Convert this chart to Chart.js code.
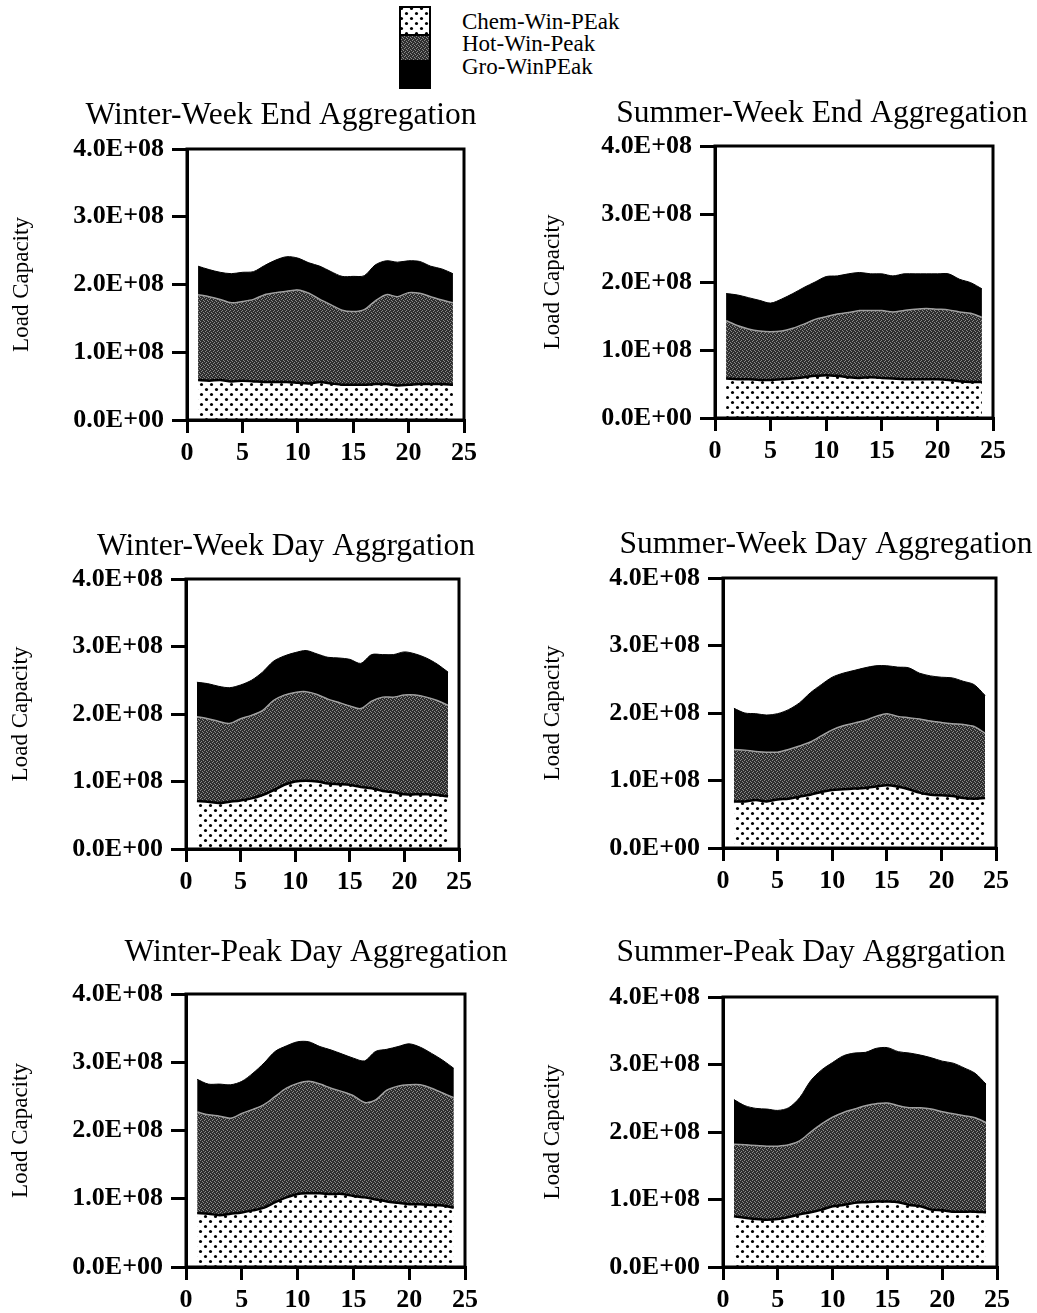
<!DOCTYPE html>
<html>
<head>
<meta charset="utf-8">
<title>Load Capacity Aggregation</title>
<script src="https://cdn.jsdelivr.net/npm/chart.js@4.4.1/dist/chart.umd.min.js"></script>
<style>
  html, body { margin: 0; padding: 0; background: #fff; overflow: hidden; }
  body { position: relative; width: 1037px; height: 1313px; font-family: 'Liberation Serif', 'Times New Roman', serif; }
  canvas.panel { position: absolute; }
  #legendSwatch { position: absolute; left: 399px; top: 6px; }
  .lbl { position: absolute; left: 462px; font-size: 23px; line-height: 23px; white-space: nowrap; color: #000; }
</style>
</head>
<body>
<canvas id="legendSwatch" width="32" height="83"></canvas>
<script>
// hours of the day
const hours = [1, 2, 3, 4, 5, 6, 7, 8, 9, 10, 11, 12, 13, 14, 15, 16, 17, 18, 19, 20, 21, 22, 23, 24];

const seriesNames = ['Chem-Win-PEak', 'Hot-Win-Peak', 'Gro-WinPEak'];

// load per component, in millions (stacked: chem, hot, gro)
const winterWeekEndChem = [59, 58, 59, 57, 58, 57, 56, 56, 56, 55, 54, 56, 54, 52, 52, 52, 53, 53, 51, 52, 53, 53, 53, 52];
const winterWeekEndHot  = [126, 124, 119, 116, 117, 121, 129, 132, 134, 137, 133, 122, 116, 110, 108, 111, 123, 132, 131, 136, 134, 129, 124, 121];
const winterWeekEndGro  = [42, 40, 40, 43, 43, 41, 43, 48, 51, 47, 45, 49, 49, 50, 52, 50, 53, 50, 51, 47, 47, 45, 46, 43];

const summerWeekEndChem = [58, 57, 57, 56, 56, 57, 58, 60, 62, 63, 62, 60, 59, 60, 59, 58, 57, 57, 57, 57, 56, 54, 53, 53];
const summerWeekEndHot  = [85, 79, 74, 72, 71, 71, 74, 78, 83, 86, 91, 95, 99, 98, 99, 98, 101, 103, 104, 103, 103, 102, 101, 95];
const summerWeekEndGro  = [40, 45, 46, 45, 42, 47, 51, 54, 55, 59, 56, 57, 56, 54, 54, 53, 54, 52, 51, 52, 53, 48, 45, 42];

const winterWeekDayChem = [71, 70, 68, 70, 72, 75, 80, 87, 95, 100, 101, 100, 97, 96, 95, 92, 90, 86, 84, 81, 81, 81, 80, 78];
const winterWeekDayHot  = [125, 123, 121, 116, 121, 123, 125, 133, 133, 132, 132, 129, 125, 121, 117, 116, 129, 139, 141, 147, 147, 144, 140, 135];
const winterWeekDayGro  = [51, 52, 52, 53, 50, 52, 57, 58, 58, 59, 61, 60, 62, 66, 69, 67, 69, 63, 63, 64, 61, 58, 54, 49];

const summerWeekDayChem = [69, 69, 71, 69, 72, 73, 76, 79, 83, 86, 87, 88, 89, 91, 93, 91, 87, 82, 79, 78, 77, 74, 73, 74];
const summerWeekDayHot  = [77, 76, 72, 73, 70, 73, 75, 78, 83, 89, 94, 97, 100, 104, 106, 104, 106, 109, 109, 108, 107, 109, 107, 96];
const summerWeekDayGro  = [61, 55, 56, 55, 57, 59, 64, 73, 76, 78, 78, 78, 78, 75, 71, 73, 74, 68, 67, 67, 68, 64, 62, 56];

const winterPeakDayChem = [79, 78, 76, 78, 80, 83, 87, 95, 102, 107, 108, 108, 107, 107, 104, 102, 99, 96, 94, 92, 92, 91, 90, 87];
const winterPeakDayHot  = [148, 145, 145, 140, 145, 148, 151, 155, 160, 162, 164, 160, 155, 150, 147, 139, 146, 163, 171, 175, 175, 171, 165, 161];
const winterPeakDayGro  = [48, 45, 47, 49, 47, 53, 61, 66, 62, 61, 58, 55, 56, 55, 55, 61, 71, 60, 58, 60, 55, 51, 48, 43];

const summerPeakDayChem = [75, 73, 71, 70, 71, 74, 78, 81, 85, 90, 92, 95, 96, 97, 97, 96, 92, 90, 85, 84, 82, 82, 82, 81];
const summerPeakDayHot  = [107, 108, 109, 109, 108, 107, 109, 119, 127, 132, 137, 139, 143, 145, 146, 143, 144, 146, 149, 146, 145, 142, 139, 133];
const summerPeakDayGro  = [66, 58, 55, 55, 53, 55, 64, 76, 80, 81, 84, 83, 79, 82, 82, 80, 81, 78, 76, 75, 75, 71, 66, 57];

// axes
const UNIT = 1e6;
const yMax = 400, yStep = 100;
const xMax = 25, xStep = 5;
const yTitle = 'Load Capacity';

const SERIF = "'Liberation Serif', 'Times New Roman', serif";

// where each panel sits on the page
const panels = [
  { title: 'Winter-Week End Aggregation', series: [winterWeekEndChem, winterWeekEndHot, winterWeekEndGro],
    titleX: 281, titleY: 116, labelX: 22, left: 187, right: 464, top: 149, bottom: 420 },
  { title: 'Summer-Week End Aggregation', series: [summerWeekEndChem, summerWeekEndHot, summerWeekEndGro],
    titleX: 822, titleY: 114, labelX: 553, left: 715, right: 993, top: 146, bottom: 418 },
  { title: 'Winter-Week Day Aggrgation', series: [winterWeekDayChem, winterWeekDayHot, winterWeekDayGro],
    titleX: 286, titleY: 547, labelX: 21, left: 186, right: 459, top: 579, bottom: 849 },
  { title: 'Summer-Week Day Aggregation', series: [summerWeekDayChem, summerWeekDayHot, summerWeekDayGro],
    titleX: 826, titleY: 545, labelX: 553, left: 723, right: 996, top: 578, bottom: 848 },
  { title: 'Winter-Peak Day Aggregation', series: [winterPeakDayChem, winterPeakDayHot, winterPeakDayGro],
    titleX: 316, titleY: 953, labelX: 21, left: 186, right: 465, top: 994, bottom: 1267 },
  { title: 'Summer-Peak Day Aggrgation', series: [summerPeakDayChem, summerPeakDayHot, summerPeakDayGro],
    titleX: 811, titleY: 953, labelX: 553, left: 723, right: 997, top: 997, bottom: 1267 },
];

function sciLabel(v) {
  const [m, e] = (v * UNIT).toExponential(1).split('e');
  return m + 'E' + e[0] + e.slice(1).padStart(2, '0');
}

function tile(w, h, paint) {
  const c = document.createElement('canvas');
  c.width = w; c.height = h;
  const g = c.getContext('2d');
  paint(g);
  return g.createPattern(c, 'repeat');
}

// white with staggered black dots
const dots = tile(10, 10, g => {
  g.fillStyle = '#fff';
  g.fillRect(0, 0, 10, 10);
  g.fillStyle = '#000';
  [[2.5, 2.5], [7.5, 7.5]].forEach(([x, y]) => {
    g.beginPath(); g.arc(x, y, 1.55, 0, Math.PI * 2); g.fill();
  });
});

// dark halftone grey
const halftone = tile(4, 4, g => {
  g.fillStyle = '#2e2e2e';
  g.fillRect(0, 0, 4, 4);
  g.fillStyle = '#8a8a8a';
  [[0, 0], [2, 1], [1, 2], [3, 3]].forEach(([x, y]) => g.fillRect(x, y, 1, 1));
});

const fills = [dots, halftone, '#000'];
const edges = ['#000', '#a0a0a0', '#000'];
const edgeWidths = [2.5, 1.5, 1];

// box round the plot area
const framePlugin = {
  id: 'frame',
  afterDatasetsDraw(chart) {
    const { ctx, chartArea: a } = chart;
    ctx.save();
    ctx.strokeStyle = '#000';
    ctx.lineWidth = 3;
    ctx.strokeRect(a.left, a.top, a.right - a.left, a.bottom - a.top);
    ctx.restore();
  }
};

const TITLE_SIZE = 31.5;
const YTITLE_SIZE = 23;
const tickFont = { family: SERIF, size: 26, weight: 'bold' };

function buildPanel(p) {
  const cl = Math.round(p.labelX - 18);
  const ct = Math.round(p.titleY - TITLE_SIZE * 1.2 / 2);
  const cw = Math.round(2 * (p.titleX - cl));
  const ch = Math.round(p.bottom - ct + 54);

  const canvas = document.createElement('canvas');
  canvas.className = 'panel';
  canvas.width = cw;
  canvas.height = ch;
  canvas.style.left = cl + 'px';
  canvas.style.top = ct + 'px';
  document.body.appendChild(canvas);

  return new Chart(canvas, {
    type: 'line',
    data: {
      datasets: seriesNames.map((name, i) => ({
        label: name,
        data: hours.map((h, k) => ({ x: h, y: p.series[i][k] })),
        fill: i === 0 ? 'origin' : '-1',
        backgroundColor: fills[i],
        borderColor: edges[i],
        borderWidth: edgeWidths[i],
        pointRadius: 0,
        tension: 0.3
      }))
    },
    options: {
      responsive: false,
      animation: false,
      devicePixelRatio: 1,
      layout: { padding: 0 },
      plugins: {
        legend: { display: false },
        tooltip: { enabled: false },
        title: {
          display: true,
          text: p.title,
          color: '#000',
          font: { family: SERIF, size: TITLE_SIZE, weight: 'normal', lineHeight: 1.2 },
          padding: { top: 0, bottom: p.top - ct - TITLE_SIZE * 1.2 }
        }
      },
      scales: {
        x: {
          type: 'linear',
          min: 0,
          max: xMax,
          ticks: { stepSize: xStep, color: '#000', font: tickFont, padding: 5, maxRotation: 0 },
          grid: { display: true, drawOnChartArea: false, drawTicks: true, tickLength: 13, color: '#000', lineWidth: 3 },
          border: { display: true, color: '#000', width: 3 },
          afterFit(scale) { scale.height = ch - (p.bottom - ct); }
        },
        y: {
          type: 'linear',
          stacked: true,
          min: 0,
          max: yMax,
          ticks: { stepSize: yStep, color: '#000', font: tickFont, padding: 8, callback: sciLabel },
          grid: { display: true, drawOnChartArea: false, drawTicks: true, tickLength: 15, color: '#000', lineWidth: 3 },
          border: { display: true, color: '#000', width: 3 },
          title: {
            display: true,
            text: yTitle,
            color: '#000',
            font: { family: SERIF, size: YTITLE_SIZE, weight: 'normal', lineHeight: 1.2 },
            padding: { top: p.labelX - cl - YTITLE_SIZE * 1.2 / 2, bottom: 0 }
          },
          afterFit(scale) { scale.width = p.left - cl; }
        },
        y2: {
          type: 'linear',
          position: 'right',
          ticks: { display: false },
          grid: { display: false },
          border: { display: false },
          afterFit(scale) { scale.width = cl + cw - p.right; }
        }
      }
    },
    plugins: [framePlugin]
  });
}

panels.forEach(buildPanel);

// shared key at the top
(function drawKey() {
  const g = document.getElementById('legendSwatch').getContext('2d');
  const bands = [[1, 29], [29, 54], [54, 82]];
  bands.forEach(([y0, y1], i) => {
    g.fillStyle = fills[i];
    g.fillRect(1, y0, 30, y1 - y0);
  });
  g.strokeStyle = '#000';
  g.lineWidth = 2;
  g.strokeRect(1, 1, 30, 81);
  g.beginPath(); g.moveTo(1, 29); g.lineTo(31, 29); g.stroke();

  const centres = [21, 43.5, 66];
  seriesNames.forEach((name, i) => {
    const d = document.createElement('div');
    d.className = 'lbl';
    d.textContent = name;
    d.style.top = (centres[i] - 11.5) + 'px';
    document.body.appendChild(d);
  });
})();
</script>
</body>
</html>
